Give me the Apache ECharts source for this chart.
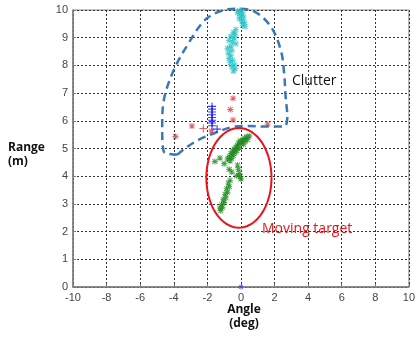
<!DOCTYPE html>
<html>
<head>
<meta charset="utf-8">
<script src="https://cdn.jsdelivr.net/npm/echarts@6/dist/echarts.min.js"></script>
<style>html,body{margin:0;padding:0;background:#fff}#c{width:418px;height:339px}</style>
</head>
<body>
<div id="c"></div>
<script>
// Tick values
const xTicks = [-10,-8,-6,-4,-2,0,2,4,6,8,10];
const yTicks = [0,1,2,3,4,5,6,7,8,9,10];

// Clutter points (cyan)
const clutterCyan = [[-0.1,9.98],[0.05,9.95],[-0.2,9.9],[0.1,9.85],[-0.05,9.8],[0.15,9.72],[-0.1,9.68],[0.05,9.6],[0.2,9.55],[0.1,9.45],[0.25,9.4],[-0.3,9.3],[-0.45,9.2],[-0.35,9.12],[-0.6,9.05],[-0.4,8.98],[-0.7,8.9],[-0.5,8.85],[-0.3,8.78],[-0.6,8.7],[-0.8,8.62],[-0.55,8.55],[-0.75,8.45],[-0.6,8.35],[-0.7,8.25],[-0.5,8.18],[-0.65,8.1],[-0.4,8.02],[-0.55,7.95],[-0.35,7.88],[-0.45,7.8]];
// Blue plus points
const bluePlus = [[-1.72,6.52],[-1.72,6.42],[-1.72,6.32],[-1.72,6.22],[-1.72,6.12],[-1.72,6.02],[-1.72,5.92],[-1.72,5.82],[-1.42,5.7]];
const blueOrigin = [[0,0]];
// Red points
const redStar = [[-0.47,6.81],[-0.63,6.41],[-0.47,6.03],[-2.92,5.81],[-3.9,5.43],[1.59,5.88],[-1.75,5.63]];
const redPlus = [[-2.24,5.72]];
// Moving target (green)
const target = [[0.5,5.45],[0.35,5.42],[0.2,5.38],[0.4,5.32],[0.1,5.3],[0.25,5.25],[-0.05,5.28],[0.0,5.18],[-0.15,5.2],[0.15,5.15],[-0.2,5.1],[-0.3,5.05],[-0.1,5.02],[-0.4,4.98],[-0.25,4.92],[-0.5,4.9],[-0.35,4.85],[-0.6,4.82],[-0.45,4.75],[-0.7,4.7],[-0.55,4.65],[-0.8,4.62],[-0.65,4.55],[-1.55,4.53],[-1.25,4.66],[-1.0,4.45],[-0.7,4.25],[-0.55,4.15],[-0.2,4.4],[-0.15,4.25],[-0.1,4.1],[-0.05,3.98],[-0.25,4.02],[0.0,3.9],[-0.65,3.85],[-0.75,3.75],[-0.7,3.62],[-0.85,3.55],[-0.8,3.42],[-0.95,3.35],[-0.9,3.22],[-1.05,3.15],[-1.0,3.05],[-1.15,2.98],[-1.1,2.88],[-1.25,2.85],[-1.2,2.75]];

// Annotation outlines (data units)
const clutterOutline = [[-3.78,4.78],[-4.59,4.88],[-4.69,5.79],[-4.59,6.75],[-4.0,7.83],[-3.12,8.8],[-2.14,9.64],[-1.16,9.97],[-0.18,10.05],[0.81,9.94],[1.78,9.4],[2.37,8.56],[2.57,7.73],[2.66,6.87],[2.76,6.15],[2.57,5.79],[1.39,5.79],[0.41,5.81],[-0.37,5.79],[-1.55,5.56],[-2.53,5.31],[-3.31,5.01],[-3.78,4.78]];
const ellipseCenter = [-0.12, 3.94];
const ellipseRadii = [1.94, 1.8];
const ellipse = [];
for (let i = 0; i <= 72; i++) {
  const t = i / 72 * 2 * Math.PI;
  ellipse.push([ellipseCenter[0] + ellipseRadii[0] * Math.cos(t), ellipseCenter[1] + ellipseRadii[1] * Math.sin(t)]);
}

const STAR = 'path://M-0.8,-5H0.8V-0.8H5V0.8H0.8V5H-0.8V0.8H-5V-0.8H-0.8Z M-3.5,-4.6L4.6,3.5L3.5,4.6L-4.6,-3.5Z M3.5,-4.6L4.6,-3.5L-3.5,4.6L-4.6,3.5Z';
const PLUS = 'path://M-0.7,-5H0.7V-0.7H5V0.7H0.7V5H-0.7V0.7H-5V-0.7H-0.7Z';

const chart = echarts.init(document.getElementById('c'), null, {renderer: 'canvas'});
const tickFont = {fontFamily: 'Liberation Sans, Arial, sans-serif', fontSize: 11, color: '#444'};
chart.setOption({
  animation: false,
  backgroundColor: '#fff',
  grid: {left: 73, right: 5, top: 10, bottom: 52, show: true, borderColor: '#8a8a8a', borderWidth: 1},
  xAxis: {
    type: 'value', min: -10, max: 10, interval: 2,
    axisLine: {onZero: false, lineStyle: {color: '#7a7a7a', width: 1.5}},
    axisTick: {inside: true, length: 3, lineStyle: {color: '#7a7a7a'}},
    axisLabel: Object.assign({margin: 5}, tickFont),
    splitLine: {show: true, lineStyle: {color: '#333', type: [2, 2], width: 1}}
  },
  yAxis: {
    type: 'value', min: 0, max: 10, interval: 1,
    axisLine: {show: true, onZero: false, lineStyle: {color: '#7a7a7a', width: 1.5}},
    axisTick: {show: true, inside: true, length: 3, lineStyle: {color: '#7a7a7a'}},
    axisLabel: Object.assign({margin: 5}, tickFont),
    splitLine: {show: true, lineStyle: {color: '#333', type: [2, 2], width: 1}}
  },
  series: [
    {type: 'line', data: clutterOutline, smooth: 0.35, showSymbol: false, clip: false, z: 3,
     lineStyle: {color: '#3a77b5', width: 2.5, type: [8, 5]}},
    {type: 'line', data: ellipse, smooth: false, showSymbol: false, clip: false, z: 3,
     lineStyle: {color: '#e8141c', width: 2}},
    {type: 'scatter', data: clutterCyan, symbol: STAR, symbolSize: 6, clip: false, itemStyle: {color: '#22c0c4'}, z: 4},
    {type: 'scatter', data: target, symbol: STAR, symbolSize: 6, itemStyle: {color: '#1a8a1a'}, z: 4},
    {type: 'scatter', data: redStar, symbol: STAR, symbolSize: 6, itemStyle: {color: '#e23a3a'}, z: 4},
    {type: 'scatter', data: redPlus, symbol: PLUS, symbolSize: 8, itemStyle: {color: '#e23a3a'}, z: 4},
    {type: 'scatter', data: bluePlus, symbol: PLUS, symbolSize: 8, itemStyle: {color: '#1010ee'}, z: 5},
    {type: 'scatter', data: blueOrigin, symbol: STAR, symbolSize: 5, clip: false, itemStyle: {color: '#4040ff'}, z: 5}
  ],
  graphic: [
    {type: 'text', x: 292, y: 74, style: {text: 'Clutter', fontFamily: 'Open Sans, sans-serif', fontSize: 14, fill: '#111'}},
    {type: 'text', x: 262, y: 222, style: {text: 'Moving target', fontFamily: 'Open Sans, sans-serif', fontSize: 14, fill: '#e8141c'}},
    {type: 'text', x: 8, y: 141, style: {text: 'Range\n(m)', fontFamily: 'Open Sans, sans-serif', fontWeight: 'bold', fontSize: 12, lineHeight: 14, fill: '#111'}},
    {type: 'text', x: 244, y: 303, style: {text: 'Angle\n(deg)', fontFamily: 'Open Sans, sans-serif', fontWeight: 'bold', fontSize: 12, lineHeight: 14, fill: '#111', align: 'center'}}
  ]
});
</script>
</body>
</html>
